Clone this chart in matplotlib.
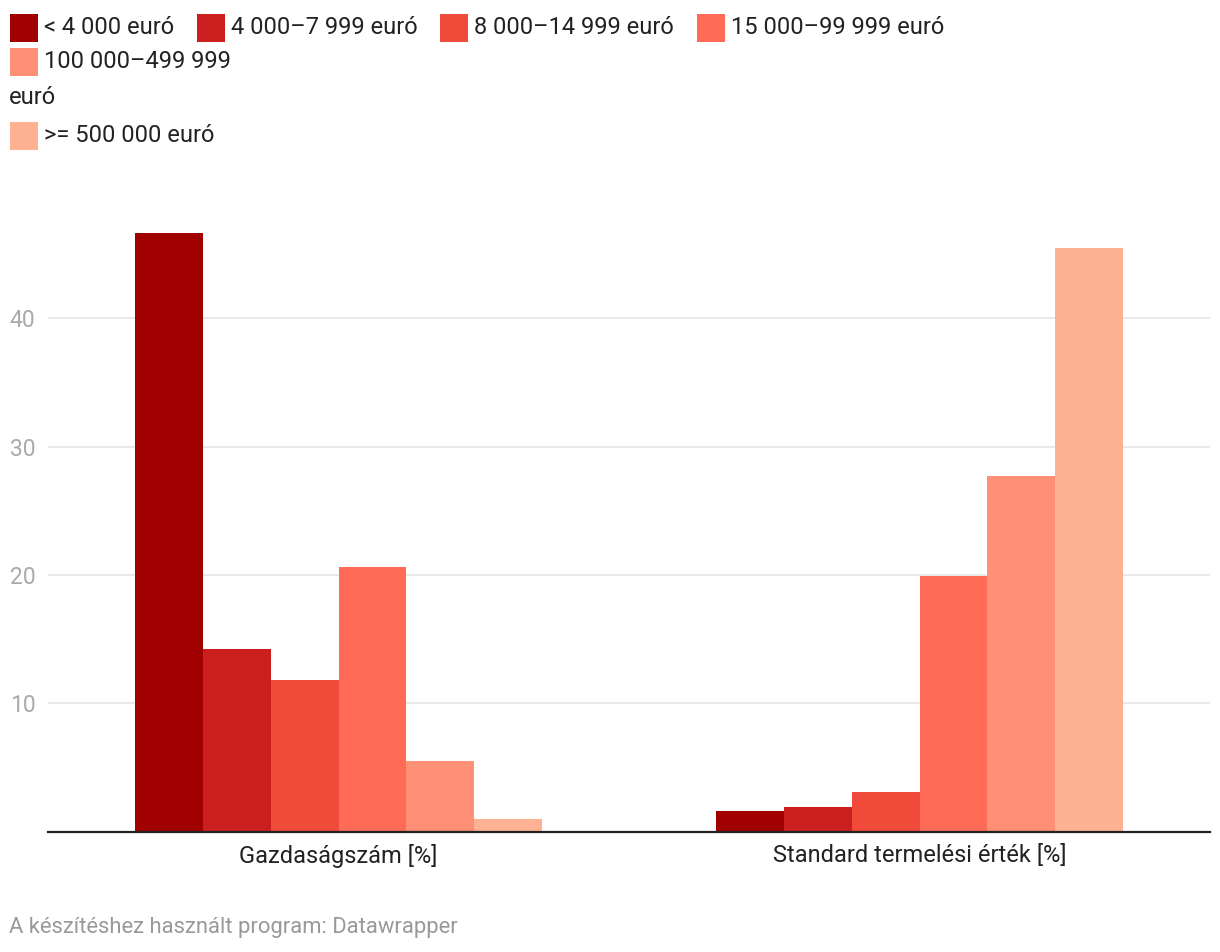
import matplotlib.pyplot as plt
from matplotlib.patches import Rectangle

plt.rcParams['font.family'] = ['Roboto', 'DejaVu Sans']

kategoriak = ['Gazdaságszám [%]', 'Standard termelési érték [%]']
sav_nevek = ['< 4 000 euró', '4 000–7 999 euró', '8 000–14 999 euró',
             '15 000–99 999 euró', '100 000–499 999\neuró', '>= 500 000 euró']
gazdasagszam = [46.7, 14.2, 11.8, 20.6, 5.5, 1.0]
termelesi_ertek = [1.6, 1.9, 3.1, 19.9, 27.7, 45.5]
szinek = ['#a10000', '#ca1e1f', '#ef4a3a', '#ff6b57', '#ff8f75', '#ffb193']
y_tickek = [10, 20, 30, 40]

W, H = 1220, 952
fig = plt.figure(figsize=(W / 100, H / 100), dpi=100)


def px(x, y):
    # pixel (felulrol merve) -> figura koordinata
    return x / W, 1 - y / H


ax = fig.add_axes([48 / W, 1 - 831.5 / H, (1210 - 48) / W, (831.5 - 203) / H])

n = len(sav_nevek)
csoport = 0.7
w = csoport / n
for i in range(n):
    ertekek = [gazdasagszam[i], termelesi_ertek[i]]
    xs = [k - csoport / 2 + w * (i + 0.5) for k in range(len(kategoriak))]
    ax.bar(xs, ertekek, width=w, color=szinek[i], linewidth=0, zorder=3)

ax.set_xlim(-0.5, 1.5)
ax.set_ylim(0, 49)
ax.set_yticks(y_tickek)
ax.set_yticklabels([str(t) for t in y_tickek], ha='left', color='#aaaaaa', fontsize=16.5)
ax.tick_params(axis='y', length=0, pad=27.5)
ax.set_xticks(range(len(kategoriak)))
ax.set_xticklabels(kategoriak, fontsize=17, color='#222222')
ax.tick_params(axis='x', length=0, pad=9)
ax.grid(axis='y', color='#e5e5e5', linewidth=1.2, zorder=0)
for s in ['top', 'right', 'left']:
    ax.spines[s].set_visible(False)
ax.spines['bottom'].set_color('#222222')
ax.spines['bottom'].set_linewidth(1.6)
ax.spines['bottom'].set_zorder(4)

# jelmagyarazat, ahogy a Datawrapper tordeli
helyek = [(10, 14), (197, 14), (440, 14), (697, 14), (10, 48), (10, 122)]
for (x, y), nev, c in zip(helyek, sav_nevek, szinek):
    fig.add_artist(Rectangle(px(x, y + 28), 28 / W, 28 / H, color=c,
                             transform=fig.transFigure, linewidth=0))
    if '\n' in nev:
        elso, masodik = nev.split('\n')
        fig.text(*px(x + 34, y + 14), elso, fontsize=17, color='#222222', va='center')
        fig.text(*px(9, y + 50), masodik, fontsize=17, color='#222222', va='center')
    else:
        fig.text(*px(x + 34, y + 14), nev, fontsize=17, color='#222222', va='center')

fig.text(*px(9, 927), 'A készítéshez használt program: Datawrapper',
         fontsize=15.8, color='#999999', va='center')

fig.savefig('out.png', dpi=100, facecolor='white')
